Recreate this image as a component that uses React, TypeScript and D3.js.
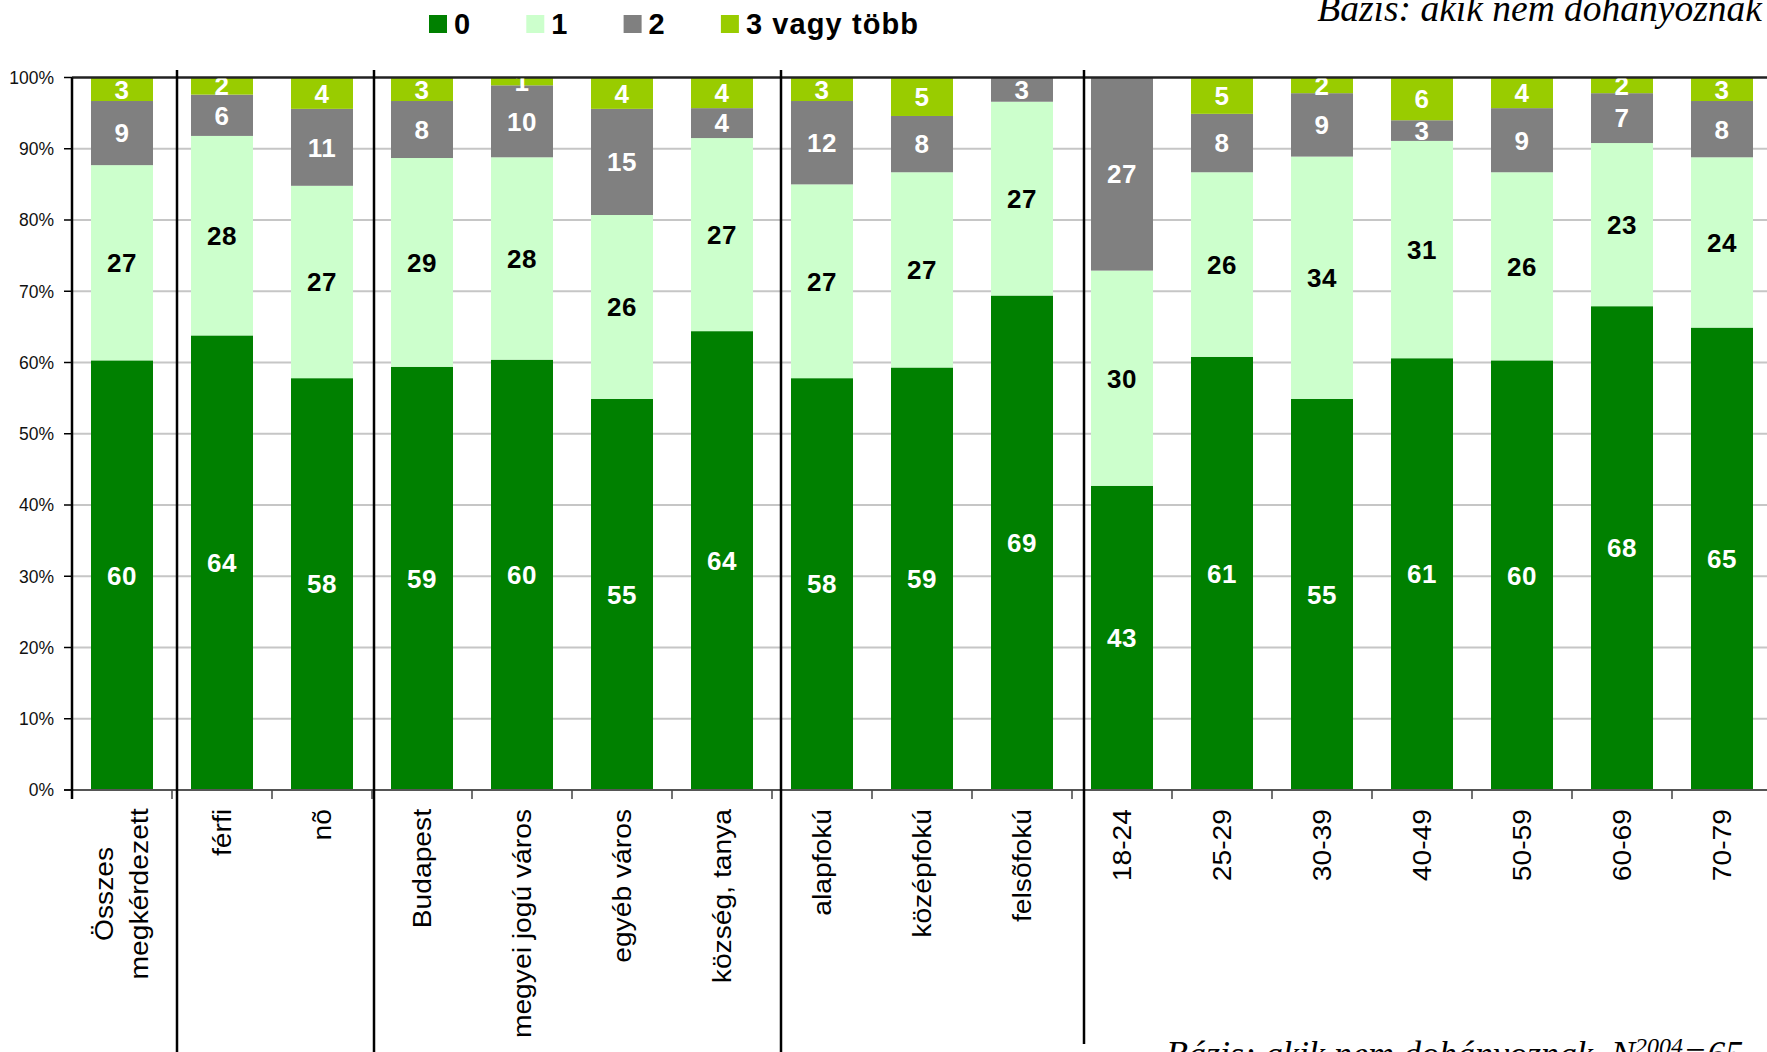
import * as d3 from "d3";
import * as React from "react";

const categories = [
  "Összes\nmegkérdezett",
  "férfi",
  "nõ",
  "Budapest",
  "megyei jogú város",
  "egyéb város",
  "község, tanya",
  "alapfokú",
  "középfokú",
  "felsõfokú",
  "18-24",
  "25-29",
  "30-39",
  "40-49",
  "50-59",
  "60-69",
  "70-79",
];

const seriesNames = ["0", "1", "2", "3 vagy több"];
const seriesColors = ["#008000", "#CCFFCC", "#808080", "#99CC00"];
const labelColors = ["#ffffff", "#000000", "#ffffff", "#ffffff"];

const values0 = [60.3, 63.8, 57.8, 59.4, 60.4, 54.9, 64.4, 57.8, 59.3, 69.4, 42.7, 60.8, 54.9, 60.6, 60.3, 67.9, 64.9];
const values1 = [27.4, 28.0, 27.0, 29.3, 28.4, 25.8, 27.1, 27.2, 27.4, 27.2, 30.2, 25.9, 34.0, 30.5, 26.4, 22.9, 23.9];
const values2 = [9.0, 5.8, 10.8, 8.0, 10.1, 14.9, 4.2, 11.7, 7.9, 3.4, 27.1, 8.2, 8.9, 2.9, 9.0, 7.0, 7.9];
const values3 = [3.3, 2.4, 4.4, 3.3, 1.1, 4.4, 4.3, 3.3, 5.4, 0, 0, 5.1, 2.2, 6.0, 4.3, 2.2, 3.3];

const yTicks = [0, 10, 20, 30, 40, 50, 60, 70, 80, 90, 100];

// group separators: index of the category after which the line stands
const groupEnds = [0, 2, 6, 9];

const sans = "'Liberation Sans', Arial, Helvetica, sans-serif";
const serif = "'Liberation Serif', 'Times New Roman', serif";

export default function App() {
  const width = 1767;
  const height = 1052;
  const marginLeft = 72;
  const plotTop = 77.5;
  const plotBottom = 790;

  const x = d3
    .scaleBand<string>()
    .domain(categories)
    .range([marginLeft, marginLeft + 1700])
    .paddingInner(0.38)
    .paddingOuter(0.19);
  const y = d3.scaleLinear([0, 100], [plotBottom, plotTop]);
  const half = (x.step() - x.bandwidth()) / 2;

  const rows = categories.map((c, i) => ({
    cat: c,
    s0: values0[i],
    s1: values1[i],
    s2: values2[i],
    s3: values3[i],
  }));
  const keys = ["s0", "s1", "s2", "s3"];
  const stacked = d3.stack<any>().keys(keys)(rows);

  const sepOffsets = [5, 2, 9, 12];
  const sepBottoms = [height, height, height, 1044];

  return (
    <svg
      width={width}
      height={height}
      viewBox={`0 0 ${width} ${height}`}
      style={{ position: "absolute", left: 0, top: 0, background: "#fff" }}
    >
      <defs>
        <clipPath id="plotClip">
          <rect x={0} y={plotTop + 1} width={width} height={plotBottom - plotTop} />
        </clipPath>
      </defs>

      {/* gridlines */}
      {yTicks.slice(1, -1).map((t) => (
        <line key={t} x1={marginLeft} x2={width} y1={y(t)} y2={y(t)} stroke="#c6c6c6" strokeWidth={2} />
      ))}

      {/* bars */}
      {stacked.map((layer, si) => (
        <g key={si} fill={seriesColors[si]}>
          {layer.map((d, i) =>
            d[1] - d[0] > 0 ? (
              <rect
                key={i}
                x={x(categories[i])}
                y={y(d[1])}
                width={x.bandwidth()}
                height={y(d[0]) - y(d[1])}
              />
            ) : null
          )}
        </g>
      ))}

      {/* top border */}
      <line x1={marginLeft} x2={width} y1={plotTop} y2={plotTop} stroke="#222" strokeWidth={2.5} />
      {/* x axis */}
      <line x1={marginLeft - 8} x2={width} y1={plotBottom} y2={plotBottom} stroke="#555" strokeWidth={2} />
      {categories.map((c, i) => (
        <line
          key={i}
          x1={x(c)! - half}
          x2={x(c)! - half}
          y1={plotBottom}
          y2={plotBottom + 9}
          stroke="#444"
          strokeWidth={1.5}
        />
      ))}
      <line
        x1={x(categories[categories.length - 1])! + x.bandwidth() + half}
        x2={x(categories[categories.length - 1])! + x.bandwidth() + half}
        y1={plotBottom}
        y2={plotBottom + 9}
        stroke="#444"
        strokeWidth={1.5}
      />

      {/* y axis */}
      <line x1={marginLeft} x2={marginLeft} y1={plotTop} y2={plotBottom + 9} stroke="#000" strokeWidth={2.5} />
      {yTicks.map((t) => (
        <g key={t}>
          <line x1={marginLeft - 8} x2={marginLeft} y1={y(t)} y2={y(t)} stroke="#000" strokeWidth={1.5} />
          <text
            x={54}
            y={y(t)}
            dy="0.36em"
            textAnchor="end"
            fontFamily={sans}
            fontSize={17.5}
            fill="#111"
          >
            {t}%
          </text>
        </g>
      ))}

      {/* data labels */}
      <g clipPath="url(#plotClip)" fontFamily={sans} fontWeight="bold" fontSize={26} textAnchor="middle">
        {stacked.map((layer, si) =>
          layer.map((d, i) => {
            const v = (d.data as any)[keys[si]] as number;
            return v > 0 ? (
              <text
                key={`${si}-${i}`}
                x={x(categories[i])! + x.bandwidth() / 2}
                y={y((d[0] + d[1]) / 2)}
                dy="0.36em"
                fill={labelColors[si]}
                letterSpacing={0.5}
              >
                {Math.round(v)}
              </text>
            ) : null;
          })
        )}
      </g>

      {/* category labels */}
      {categories.map((c, i) => {
        const cx = x(c)! + x.bandwidth() / 2;
        const lines = c.split("\n");
        if (lines.length === 1) {
          return (
            <text
              key={i}
              transform={`translate(${cx},809) rotate(-90) scale(1.13,1)`}
              textAnchor="end"
              dy="0.35em"
              fontFamily={sans}
              fontSize={25}
              fill="#000"
            >
              {c}
            </text>
          );
        }
        return (
          <g key={i} transform={`translate(${cx},894) rotate(-90) scale(1.13,1)`}>
            {lines.map((l, li) => (
              <text
                key={li}
                y={(li - (lines.length - 1) / 2) * 35}
                dy="0.35em"
                textAnchor="middle"
                fontFamily={sans}
                fontSize={25}
                fill="#000"
              >
                {l}
              </text>
            ))}
          </g>
        );
      })}

      {/* group separators */}
      {groupEnds.map((gi, k) => {
        const sx = x(categories[gi])! + x.bandwidth() + half + sepOffsets[k];
        return <line key={gi} x1={sx} x2={sx} y1={70} y2={sepBottoms[k]} stroke="#000" strokeWidth={2.5} />;
      })}

      {/* legend */}
      {seriesNames.map((n, i) => (
        <g key={n} transform={`translate(${429 + i * 97.3},0)`}>
          <rect x={0} y={15} width={18} height={18} fill={seriesColors[i]} />
          <text x={25} y={33.5} fontFamily={sans} fontWeight="bold" fontSize={29} letterSpacing={1.1} fill="#000">
            {n}
          </text>
        </g>
      ))}

      {/* base notes */}
      <text x={1762} y={21} textAnchor="end" fontFamily={serif} fontStyle="italic" fontSize={37.5} fill="#000">
        Bázis: akik nem dohányoznak
      </text>
      <text x={1166} y={1066} fontFamily={serif} fontStyle="italic" fontSize={36} fill="#000">
        Bázis: akik nem dohányoznak, N
        <tspan dy={-12} fontSize={24}>2004</tspan>
        <tspan dy={12}>=65</tspan>
      </text>
    </svg>
  );
}
